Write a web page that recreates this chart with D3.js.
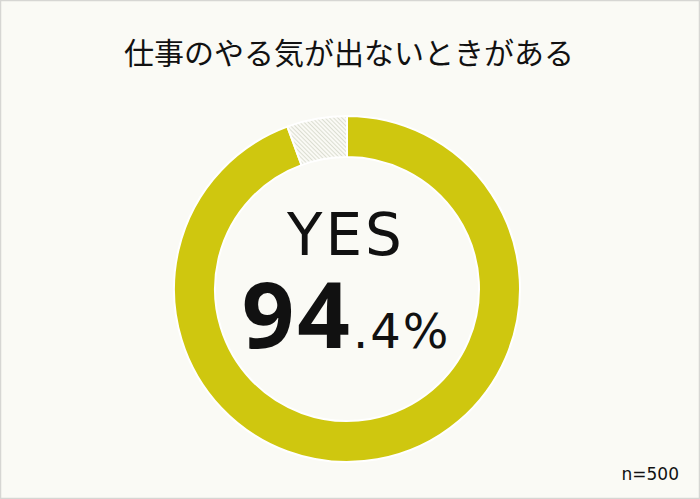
<!DOCTYPE html>
<html>
<head>
<meta charset="utf-8">
<script src="https://cdn.jsdelivr.net/npm/d3@7"></script>
<style>
  html, body { margin: 0; padding: 0; background: #fafaf5; }
  svg { display: block; }
</style>
</head>
<body>
<div id="chart"></div>
<script>
// chart data
const title = '仕事のやる気が出ないときがある';
const categories = ['YES', 'NO'];
const values = [94.4, 5.6];
const sampleNote = 'n=500';

const width = 700;
const height = 499;
const cx = 347;
const cy = 289;
const outerR = 173;
const innerR = 132;

const svg = d3.select('#chart').append('svg')
    .attr('width', width)
    .attr('height', height);

// hatch for the NO slice
const defs = svg.append('defs');
const pat = defs.append('pattern')
    .attr('id', 'hatch')
    .attr('patternUnits', 'userSpaceOnUse')
    .attr('width', 3)
    .attr('height', 3)
    .attr('patternTransform', 'rotate(-45)');
pat.append('rect')
    .attr('width', 3).attr('height', 3)
    .attr('fill', '#fafaf5');
pat.append('line')
    .attr('x1', 0).attr('y1', 0)
    .attr('x2', 0).attr('y2', 3)
    .attr('stroke', '#c9ccba')
    .attr('stroke-width', 1.2);

svg.append('rect')
    .attr('x', 0.5).attr('y', 0.5)
    .attr('width', width - 1).attr('height', height - 1)
    .attr('fill', '#fafaf5')
    .attr('stroke', '#d6d6d3')
    .attr('stroke-width', 1.5);

svg.append('text')
    .attr('x', 349)
    .attr('y', 64)
    .attr('text-anchor', 'middle')
    .attr('font-family', '"Noto Sans CJK JP", sans-serif')
    .attr('font-size', 30)
    .attr('fill', '#111')
    .text(title);

const data = categories.map((c, i) => ({ label: c, value: values[i] }));

const pie = d3.pie()
    .value(d => d.value)
    .sort(null);

const arcs = pie(data);
// NO slice sits just left of 12 o'clock, YES runs clockwise from the top
const noSpan = arcs[1].endAngle - arcs[1].startAngle;
arcs[1].startAngle = -noSpan;
arcs[1].endAngle = 0;
arcs[0].startAngle = 0;
arcs[0].endAngle = 2 * Math.PI - noSpan;

const arc = d3.arc()
    .innerRadius(innerR)
    .outerRadius(outerR);

const fills = { 'YES': '#cfc70f', 'NO': 'url(#hatch)' };

svg.append('g')
    .attr('transform', `translate(${cx},${cy})`)
    .selectAll('path')
    .data(arcs)
    .enter().append('path')
    .attr('d', arc)
    .attr('fill', d => fills[d.data.label])
    .attr('stroke', '#ffffff')
    .attr('stroke-width', 2);

// centre label
center = svg.append('g')
    .attr('fill', '#111');

center.append('text')
    .attr('x', 346)
    .attr('y', 255)
    .attr('text-anchor', 'middle')
    .attr('font-family', '"DejaVu Sans", sans-serif')
    .attr('font-size', 58)
    .attr('letter-spacing', 3)
    .text(categories[0]);

const pct = values[0].toFixed(1).split('.');
const big = center.append('text')
    .attr('x', 346)
    .attr('y', 348)
    .attr('text-anchor', 'middle');
big.append('tspan')
    .attr('font-family', '"Noto Sans", sans-serif')
    .attr('font-size', 92)
    .attr('font-weight', 'bold')
    .attr('letter-spacing', 3)
    .text(pct[0]);
big.append('tspan')
    .attr('font-family', '"DejaVu Sans", sans-serif')
    .attr('font-size', 48)
    .attr('letter-spacing', 2)
    .text('.' + pct[1] + '%');

svg.append('text')
    .attr('x', 679)
    .attr('y', 480)
    .attr('text-anchor', 'end')
    .attr('font-family', '"DejaVu Sans", sans-serif')
    .attr('font-size', 17)
    .attr('fill', '#111')
    .text(sampleNote);
</script>
</body>
</html>
